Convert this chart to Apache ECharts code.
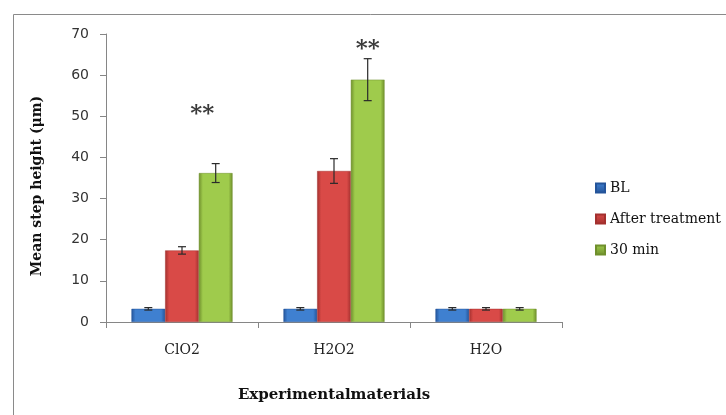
<!DOCTYPE html>
<html>
<head>
<meta charset="utf-8">
<script src="https://cdn.jsdelivr.net/npm/echarts@6/dist/echarts.min.js"></script>
<style>html,body{margin:0;padding:0;background:#fff;}#c{width:726px;height:415px;}</style>
</head>
<body>
<div id="c"></div>
<script>
const categories = ['ClO2', 'H2O2', 'H2O'];
const seriesNames = ['BL', 'After treatment', '30 min'];
const blValues = [3.2, 3.2, 3.2];
const afterValues = [17.4, 36.7, 3.2];
const min30Values = [36.2, 58.9, 3.2];
const blErrors = [0.3, 0.3, 0.3];
const afterErrors = [0.9, 3.0, 0.3];
const min30Errors = [2.3, 5.1, 0.3];
const sigCategories = ['ClO2', 'H2O2'];
const sigValues = [51.6, 67.3];
const sigText = ['**', '**'];
const yTicks = [0, 10, 20, 30, 40, 50, 60, 70];

const FONT = 'DejaVu Serif';
const catGap = 0.335;
const valueSets = [blValues, afterValues, min30Values];
const errorSets = [blErrors, afterErrors, min30Errors];
const colorSets = [
  ['#24549a', '#3f80d0', '#2c63ad'],
  ['#a3302e', '#d94a47', '#b53a37'],
  ['#6f8f2c', '#9fcb4c', '#82a83a']
];
function grad(c) {
  return new echarts.graphic.LinearGradient(0, 0, 1, 0, [
    {offset: 0, color: c[0]}, {offset: 0.12, color: c[1]},
    {offset: 0.88, color: c[1]}, {offset: 1, color: c[0]}
  ]);
}
function legendGrad(c) {
  return new echarts.graphic.LinearGradient(0, 0, 0, 1, [
    {offset: 0, color: c[1]}, {offset: 1, color: c[0]}
  ]);
}

const errData = [];
valueSets.forEach((vals, s) => {
  vals.forEach((v, i) => errData.push([i, v, errorSets[s][i], s]));
});
const sigOffsets = [0.6, 1.0];
const sigData = sigCategories.map((c, k) => [categories.indexOf(c), sigValues[k], k]);

const barSeries = seriesNames.map((name, s) => ({
  name: name,
  type: 'bar',
  data: valueSets[s],
  barGap: '0%',
  barCategoryGap: (catGap * 100) + '%',
  itemStyle: {color: grad(colorSets[s]), borderColor: colorSets[s][0], borderWidth: 0.5},
  emphasis: {disabled: true}
}));

const chart = echarts.init(document.getElementById('c'));
chart.setOption({
  animation: false,
  backgroundColor: '#fff',
  graphic: [{
    type: 'rect', left: 11, top: 12, z: -10, silent: true,
    shape: {width: 760, height: 440},
    style: {fill: 'none', stroke: '#8a8a8a', lineWidth: 1}
  }],
  grid: {left: 106, right: 164, top: 34, bottom: 93},
  legend: {
    orient: 'vertical', left: 590, top: 176,
    itemWidth: 9, itemHeight: 9, itemGap: 17,
    icon: 'rect',
    textStyle: {fontFamily: FONT, fontSize: 14, color: '#111'},
    data: seriesNames.map((n, s) => ({name: n, itemStyle: {color: legendGrad(colorSets[s])}}))
  },
  xAxis: {
    type: 'category', data: categories,
    name: 'Experimentalmaterials', nameLocation: 'middle', nameGap: 66,
    nameTextStyle: {fontFamily: FONT, fontSize: 15, fontWeight: 'bold', color: '#111'},
    axisLine: {lineStyle: {color: '#868686'}},
    axisTick: {show: true, length: 6, lineStyle: {color: '#868686'}},
    axisLabel: {fontFamily: FONT, fontSize: 14, color: '#222', margin: 21}
  },
  yAxis: {
    type: 'value', min: 0, max: 70, interval: 10,
    name: 'Mean step height (μm)', nameLocation: 'middle', nameGap: 62,
    nameTextStyle: {fontFamily: FONT, fontSize: 14, fontWeight: 'bold', color: '#111', padding: [0, 16, 0, 0]},
    axisLine: {show: true, lineStyle: {color: '#868686'}},
    axisTick: {show: true, length: 6, lineStyle: {color: '#868686'}},
    splitLine: {show: false},
    axisLabel: {fontFamily: 'DejaVu Sans', fontSize: 14, color: '#333', margin: 17,
      formatter: v => yTicks.indexOf(v) >= 0 ? String(v) : ''}
  },
  series: barSeries.concat([
    {
      type: 'custom', name: 'err', silent: true, z: 5,
      data: errData,
      renderItem: function (params, api) {
        const cat = api.value(0), v = api.value(1), e = api.value(2), s = api.value(3);
        const band = api.size([1, 0])[0];
        const bw = band * (1 - catGap) / 3;
        const c = api.coord([cat, v]);
        const x = c[0] + (s - 1) * bw;
        const yTop = api.coord([cat, v + e])[1];
        const yBot = api.coord([cat, v - e])[1];
        const cap = 4;
        const st = {stroke: '#2a2a2a', lineWidth: 1.2};
        return {type: 'group', children: [
          {type: 'line', shape: {x1: x, y1: yTop, x2: x, y2: yBot}, style: st},
          {type: 'line', shape: {x1: x - cap, y1: yTop, x2: x + cap, y2: yTop}, style: st},
          {type: 'line', shape: {x1: x - cap, y1: yBot, x2: x + cap, y2: yBot}, style: st}
        ]};
      }
    },
    {
      type: 'custom', name: 'sig', silent: true, z: 6,
      data: sigData,
      renderItem: function (params, api) {
        const cat = api.value(0), v = api.value(1), k = api.value(2);
        const band = api.size([1, 0])[0];
        const bw = band * (1 - catGap) / 3;
        const c = api.coord([cat, v]);
        return {type: 'text', style: {
          x: c[0] + sigOffsets[k] * bw, y: c[1] + 4, text: sigText[k],
          align: 'center', verticalAlign: 'middle',
          font: 'bold 23px "' + FONT + '"', fill: '#3a3a3a'
        }};
      }
    }
  ])
});
</script>
</body>
</html>
